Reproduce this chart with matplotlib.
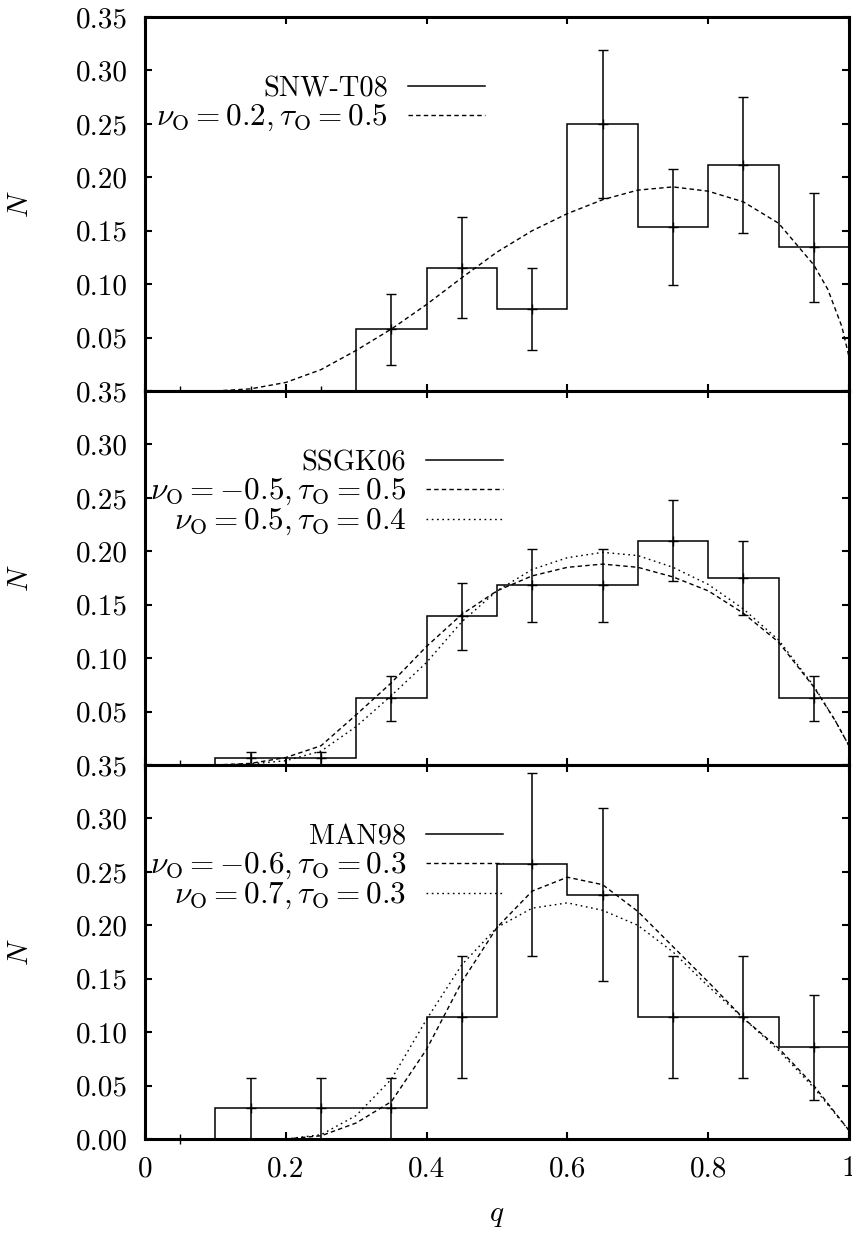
import matplotlib
matplotlib.use('Agg')
import matplotlib.pyplot as plt
from matplotlib.lines import Line2D

plt.rcParams['font.family'] = 'serif'
plt.rcParams['font.serif'] = ['cmr10']
plt.rcParams['mathtext.fontset'] = 'cm'
plt.rcParams['axes.unicode_minus'] = False
plt.rcParams['font.size'] = 21

# q bins shared by all three samples
edges = [0.0, 0.1, 0.2, 0.3, 0.4, 0.5, 0.6, 0.7, 0.8, 0.9, 1.0]
centres = [0.05, 0.15, 0.25, 0.35, 0.45, 0.55, 0.65, 0.75, 0.85, 0.95]

# SNW-T08 histogram and model
snw_n = [0.0, 0.0, 0.0, 0.0577, 0.1154, 0.0769, 0.25, 0.1538, 0.2115, 0.1346]
snw_err = [0.0, 0.0, 0.0, 0.0333, 0.0471, 0.0385, 0.0693, 0.0544, 0.0638, 0.0509]
snw_q = [0.1, 0.15, 0.2, 0.25, 0.3, 0.35, 0.4, 0.45, 0.5, 0.55, 0.6,
         0.65, 0.7, 0.75, 0.8, 0.85, 0.9, 0.95, 0.97, 0.99, 1.0]
snw_fit = [0.0, 0.002, 0.008, 0.02, 0.038, 0.058, 0.081, 0.106, 0.13, 0.15, 0.166,
           0.179, 0.188, 0.191, 0.187, 0.177, 0.157, 0.118, 0.095, 0.06, 0.032]

# SSGK06 histogram and two models
ssgk_n = [0.0, 0.0063, 0.0063, 0.0625, 0.139, 0.168, 0.168, 0.21, 0.175, 0.0625]
ssgk_err = [0.0, 0.0063, 0.0063, 0.021, 0.031, 0.034, 0.034, 0.038, 0.035, 0.021]
ssgk_q = [0.1, 0.15, 0.2, 0.25, 0.3, 0.35, 0.4, 0.45, 0.5, 0.55,
          0.6, 0.65, 0.7, 0.75, 0.8, 0.85, 0.9, 0.95, 0.98, 1.0]
ssgk_fit1 = [0.0, 0.0015, 0.007, 0.018, 0.047, 0.077, 0.111, 0.141, 0.163, 0.177,
             0.185, 0.188, 0.185, 0.176, 0.163, 0.142, 0.115, 0.073, 0.042, 0.018]
ssgk_fit2 = [0.0, 0.001, 0.004, 0.013, 0.036, 0.065, 0.096, 0.134, 0.163, 0.183,
             0.194, 0.199, 0.196, 0.185, 0.169, 0.146, 0.117, 0.074, 0.042, 0.018]

# MAN98 histogram and two models
man_n = [0.0, 0.0286, 0.0286, 0.0286, 0.1143, 0.2571, 0.2286, 0.1143, 0.1143, 0.0857]
man_err = [0.0, 0.0286, 0.0286, 0.0286, 0.0571, 0.0857, 0.0808, 0.0571, 0.0571, 0.0495]
man_q = [0.2, 0.25, 0.3, 0.35, 0.4, 0.45, 0.5, 0.55, 0.6,
         0.65, 0.7, 0.75, 0.8, 0.85, 0.9, 0.95, 1.0]
man_fit1 = [0.0, 0.003, 0.015, 0.035, 0.084, 0.147, 0.198, 0.232, 0.245,
            0.238, 0.213, 0.18, 0.147, 0.113, 0.085, 0.05, 0.008]
man_fit2 = [0.0, 0.004, 0.022, 0.056, 0.112, 0.163, 0.198, 0.216, 0.221,
            0.214, 0.2, 0.175, 0.143, 0.113, 0.083, 0.048, 0.008]

yticks = [0.0, 0.05, 0.10, 0.15, 0.20, 0.25, 0.30, 0.35]
xticks = [0, 0.2, 0.4, 0.6, 0.8, 1.0]
xticklabels = ['0', '0.2', '0.4', '0.6', '0.8', '1']

DASH = (3.2, 2.3)
DOT = (1.2, 2.6)

W, H = 853, 1233
top, bottom, left, right = 17, 1139, 145, 849
ph = (bottom - top) / 3.0

fig = plt.figure(figsize=(W / 100, H / 100), dpi=100)

panels = [
    (snw_n, snw_err, 'SNW-T08',
     [(snw_q, snw_fit, DASH, r'$\nu_{\rm O} = 0.2, \tau_{\rm O} = 0.5$')], 0.483),
    (ssgk_n, ssgk_err, 'SSGK06',
     [(ssgk_q, ssgk_fit1, DASH, r'$\nu_{\rm O} = -0.5, \tau_{\rm O} = 0.5$'),
      (ssgk_q, ssgk_fit2, DOT, r'$\nu_{\rm O} = 0.5, \tau_{\rm O} = 0.4$')], 0.509),
    (man_n, man_err, 'MAN98',
     [(man_q, man_fit1, DASH, r'$\nu_{\rm O} = -0.6, \tau_{\rm O} = 0.3$'),
      (man_q, man_fit2, DOT, r'$\nu_{\rm O} = 0.7, \tau_{\rm O} = 0.3$')], 0.509),
]

for i, (n, err, name, models, legx) in enumerate(panels):
    y0 = 1 - (top + (i + 1) * ph) / H
    ax = fig.add_axes([left / W, y0, (right - left) / W, ph / H])

    ax.stairs(n, edges, color='k', lw=1.1, baseline=0)
    ax.errorbar(centres, n, yerr=err, fmt='+', color='k', ms=7, mew=1.0,
                elinewidth=1.1, capsize=3.5, capthick=1.1, clip_on=False)

    handles = [Line2D([], [], color='k', lw=1.1)]
    labels = [name]
    for q, f, dash, lab in models:
        ax.plot(q, f, color='k', lw=1.0, dashes=dash)
        handles.append(Line2D([], [], color='k', lw=1.0, dashes=dash))
        labels.append(lab)

    leg = ax.legend(handles, labels, loc='upper right', bbox_to_anchor=(legx, 0.842),
                    frameon=False, markerfirst=False, borderpad=0, borderaxespad=0,
                    handlelength=2.64, handletextpad=0.69, labelspacing=0.0,
                    fontsize=21)
    # sample name in plain text, model labels in slightly larger math
    texts = leg.get_texts()
    texts[0].set_fontsize(20.5)
    for t in texts[1:]:
        t.set_fontsize(22.5)

    ax.set_xlim(0, 1)
    ax.set_ylim(0, 0.35)
    ax.set_xticks(xticks)
    ax.set_yticks(yticks)
    if i < 2:
        # the zero label is hidden under the top label of the panel below
        ax.set_yticklabels([''] + ['%.2f' % t for t in yticks[1:]])
        ax.set_xticklabels([])
    else:
        ax.set_yticklabels(['%.2f' % t for t in yticks])
        ax.set_xticklabels(xticklabels)
        ax.set_xlabel(r'$q$')
        ax.xaxis.set_label_coords(0.5, -0.17)
    ax.tick_params(direction='in', top=True, right=True, length=5, width=1.5,
                   pad=12)
    for s in ax.spines.values():
        s.set_linewidth(2.2)
    ax.set_ylabel(r'$N$')
    ax.yaxis.set_label_coords(-0.158, 0.5)

fig.savefig('out.png', dpi=100)
